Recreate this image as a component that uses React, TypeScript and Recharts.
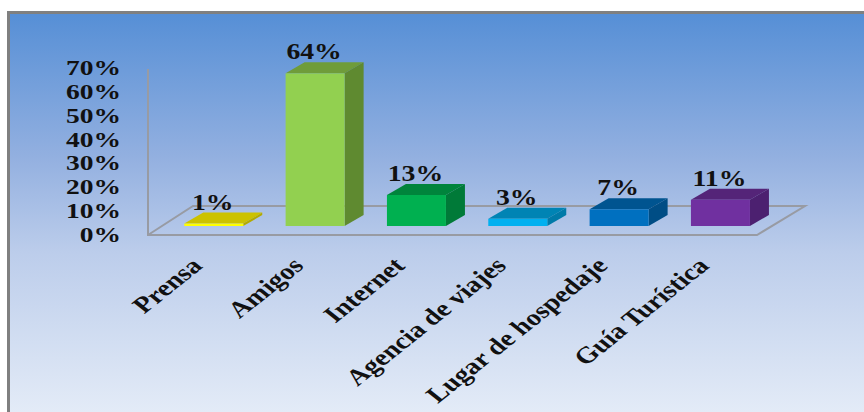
import React from "react";
import { BarChart, Bar, XAxis, YAxis, LabelList, usePlotArea } from "recharts";

const categories = ["Prensa", "Amigos", "Internet", "Agencia de viajes", "Lugar de hospedaje", "Guía Turística"];
const shares = [1, 64, 13, 3, 7, 11];
const yTicks = [0, 10, 20, 30, 40, 50, 60, 70];

const frontColors = ["#ffff00", "#92d050", "#00b050", "#00b0f0", "#0070c0", "#7030a0"];
const topColors = ["#ccc200", "#6f9c3a", "#00843c", "#0084b4", "#005490", "#542478"];
const sideColors = ["#b3aa00", "#5f8a30", "#007a38", "#007aa8", "#004d85", "#4c2070"];

const rows = categories.map((name, i) => ({ name, value: shares[i], index: i }));

const WIDTH = 864;
const HEIGHT = 412;
const DEPTH_X = 19;
const DEPTH_Y = 11;
const STRETCH = 1.18;
const serif = "'Liberation Serif', 'Times New Roman', serif";
const INK = "#111111";

// Oblique side wall and floor outline, sitting behind the columns.
function Floor() {
  const area = usePlotArea();
  if (!area) return null;
  const bottom = area.y + area.height;
  const frontY = bottom + 9;
  const backY = bottom - 20;
  const left = area.x - 15;
  const frontRight = area.x + 594;
  const points = [
    [left, area.y + 10],
    [left, frontY],
    [frontRight, frontY],
    [frontRight + 48, backY],
    [left + 45, backY],
    [left, frontY],
  ];
  return (
    <polyline
      points={points.map((p) => p.join(",")).join(" ")}
      fill="none"
      stroke="#989ba3"
      strokeWidth={2}
    />
  );
}

function Column(props: any) {
  const { x, y, width, height, payload } = props;
  const i = payload.index;
  const right = x + width;
  const base = y + height;
  return (
    <g>
      <polygon
        points={`${x},${y} ${x + DEPTH_X},${y - DEPTH_Y} ${right + DEPTH_X},${y - DEPTH_Y} ${right},${y}`}
        fill={topColors[i]}
      />
      <polygon
        points={`${right},${y} ${right + DEPTH_X},${y - DEPTH_Y} ${right + DEPTH_X},${base - DEPTH_Y} ${right},${base}`}
        fill={sideColors[i]}
      />
      <rect x={x} y={y} width={width} height={height} fill={frontColors[i]} />
    </g>
  );
}

function ValueTick(props: any) {
  const { x, y, payload } = props;
  return (
    <text
      transform={`translate(${x - 42},${y + 16}) scale(1.25,1)`}
      textAnchor="end"
      fontFamily={serif}
      fontWeight="bold"
      fontSize={22}
      fill={INK}
    >
      {`${payload.value}%`}
    </text>
  );
}

function CategoryTick(props: any) {
  const { x, y, payload } = props;
  return (
    <text
      transform={`translate(${x - 10},${y + 41}) scale(1.25,1) rotate(-45)`}
      textAnchor="end"
      fontFamily={serif}
      fontWeight="bold"
      fontSize={23}
      fill={INK}
    >
      {payload.value}
    </text>
  );
}

function ShareLabel(props: any) {
  const { x, y, width, value } = props;
  return (
    <text
      transform={`translate(${x + width / 2 - 1},${y - DEPTH_Y - 3}) scale(${STRETCH},1)`}
      textAnchor="middle"
      fontFamily={serif}
      fontWeight="bold"
      fontSize={23.5}
      fill={INK}
    >
      {`${value}%`}
    </text>
  );
}

export default function App() {
  return (
    <div
      style={{
        position: "fixed",
        left: 0,
        top: 0,
        width: WIDTH,
        height: HEIGHT,
        overflow: "hidden",
        background: "#ffffff",
      }}
    >
      <div
        style={{
          position: "absolute",
          left: 7,
          top: 11,
          right: 0,
          bottom: 0,
          boxSizing: "border-box",
          borderLeft: "3px solid #808080",
          borderTop: "3px solid #808080",
          background: "linear-gradient(180deg, #568fd6 0%, #93b0e0 36%, #bccdeb 60%, #e3ebf7 100%)",
        }}
      />
      <div style={{ position: "absolute", left: 0, top: 0 }}>
        <BarChart
          width={WIDTH}
          height={HEIGHT}
          data={rows}
          margin={{ top: 59, right: 93, bottom: 126, left: 103 }}
          barCategoryGap="21%"
        >
          <Floor />
          <XAxis
            dataKey="name"
            axisLine={false}
            tickLine={false}
            tickSize={0}
            tickMargin={0}
            height={60}
            interval={0}
            tick={<CategoryTick />}
          />
          <YAxis
            width={60}
            domain={[0, 70]}
            ticks={yTicks}
            axisLine={false}
            tickLine={false}
            tickSize={0}
            tickMargin={0}
            tick={<ValueTick />}
          />
          <Bar dataKey="value" isAnimationActive={false} shape={<Column />}>
            <LabelList dataKey="value" content={<ShareLabel />} />
          </Bar>
        </BarChart>
      </div>
    </div>
  );
}
